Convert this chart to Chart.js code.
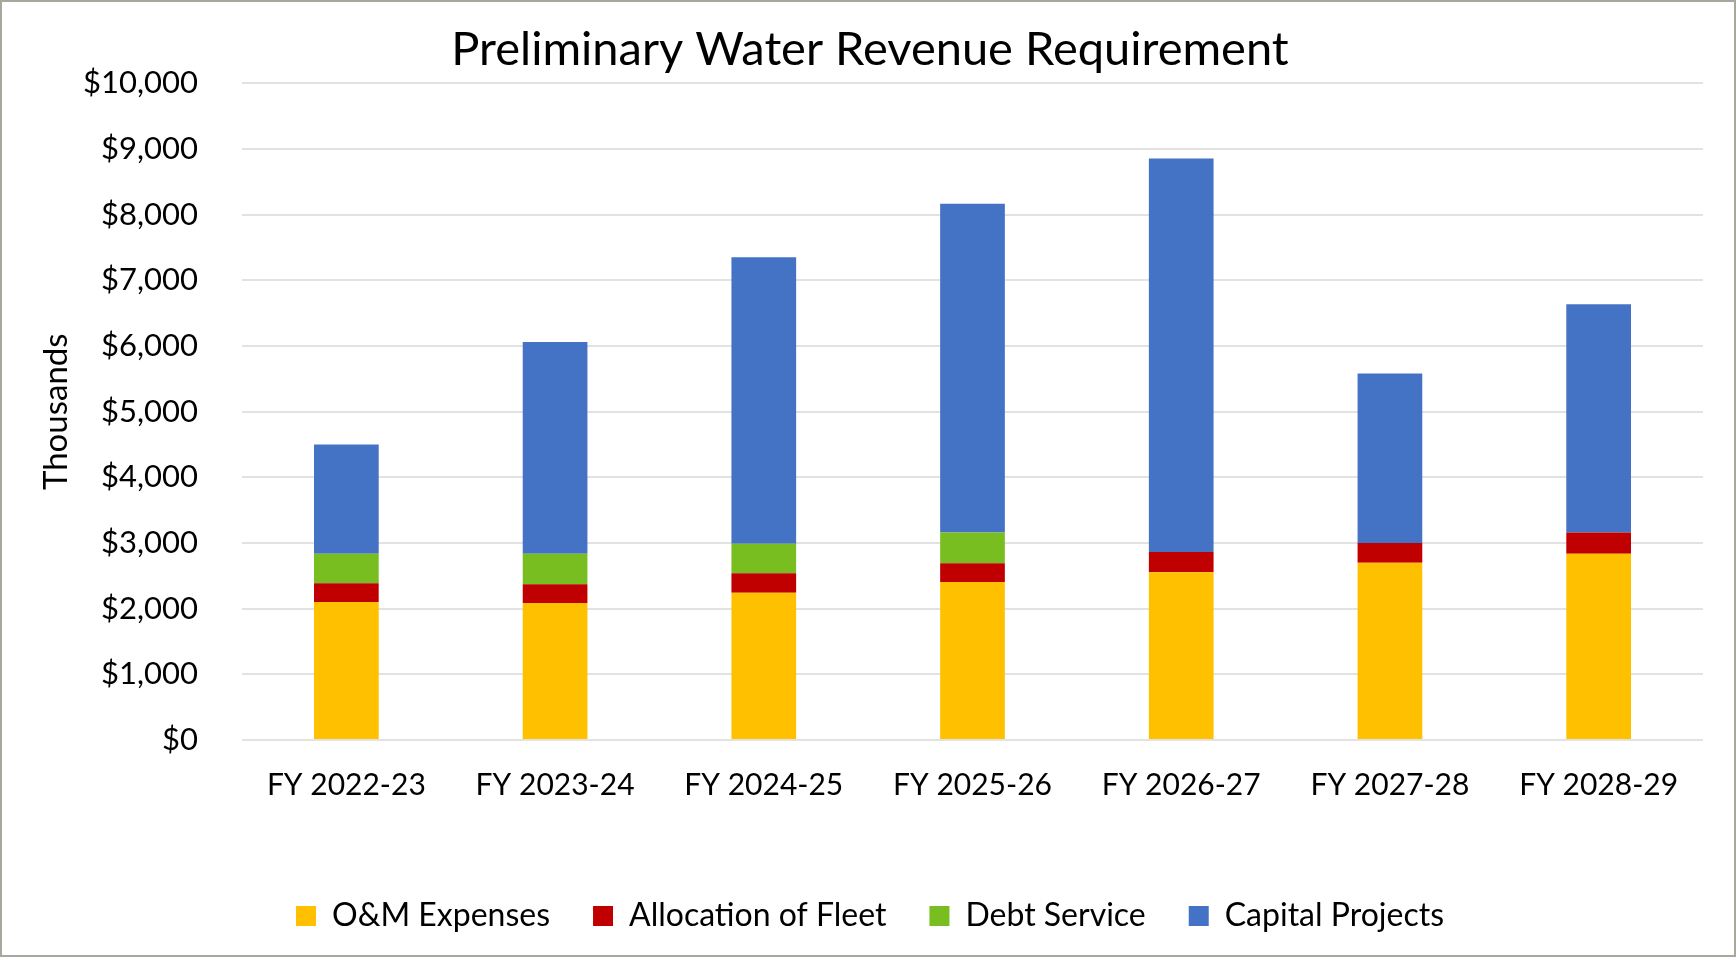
<!DOCTYPE html>
<html>
<head>
<meta charset="utf-8">
<script src="https://cdn.jsdelivr.net/npm/chart.js@4/dist/chart.umd.min.js"></script>
<style>
  html, body { margin: 0; padding: 0; background: #fff; }
  #wrap { position: absolute; left: 0; top: 0; width: 1732px; height: 953px; border: 2px solid #a7a79e; }
</style>
</head>
<body>
<div id="wrap"><canvas id="chart" width="1732" height="953"></canvas></div>
<script>
const years = ['FY 2022-23', 'FY 2023-24', 'FY 2024-25', 'FY 2025-26', 'FY 2026-27', 'FY 2027-28', 'FY 2028-29'];

// values in thousands of dollars
const omExpenses      = [2100, 2088, 2241, 2408, 2556, 2700, 2838];
const fleetAllocation = [287, 284, 299, 284, 309, 302, 324];
const debtService     = [448, 463, 448, 468, 0, 0, 0];
const capitalProjects = [1665, 3225, 4364, 5006, 5991, 2580, 3473];

const FONT = 'Lato, "Liberation Sans", sans-serif';

Chart.defaults.font.family = FONT;
Chart.defaults.color = '#000';

new Chart(document.getElementById('chart'), {
  type: 'bar',
  data: {
    labels: years,
    datasets: [
      { label: 'O&M Expenses', data: omExpenses, backgroundColor: '#FFC000' },
      { label: 'Allocation of Fleet', data: fleetAllocation, backgroundColor: '#C00000' },
      { label: 'Debt Service', data: debtService, backgroundColor: '#78BE20' },
      { label: 'Capital Projects', data: capitalProjects, backgroundColor: '#4472C4' }
    ]
  },
  options: {
    responsive: false,
    animation: false,
    layout: { padding: { left: 35, right: 31, top: 0, bottom: 13 } },
    datasets: { bar: { barPercentage: 0.31, categoryPercentage: 1 } },
    plugins: {
      title: {
        display: true,
        text: 'Preliminary Water Revenue Requirement',
        font: { size: 47, weight: 'normal' },
        color: '#000',
        padding: { top: 20, bottom: 5 }
      },
      legend: {
        position: 'bottom',
        labels: { boxWidth: 20, boxHeight: 20, padding: 43, font: { size: 32 } }
      },
      tooltip: { enabled: false }
    },
    scales: {
      x: {
        stacked: true,
        grid: { display: false, drawTicks: false },
        border: { display: false },
        ticks: { padding: 27, font: { size: 30 } },
        afterFit: s => { s.height = 117; }
      },
      y: {
        stacked: true,
        min: 0,
        max: 10000,
        ticks: {
          stepSize: 1000,
          padding: 44,
          font: { size: 31 },
          callback: v => '$' + v.toLocaleString('en-US')
        },
        grid: { color: '#e2e2e2', lineWidth: 2, drawTicks: false },
        border: { display: false },
        title: { display: true, text: 'Thousands', font: { size: 33 }, padding: { top: 0, bottom: 0 } },
        afterFit: s => { s.width = 205; }
      }
    }
  }
});
</script>
</body>
</html>
